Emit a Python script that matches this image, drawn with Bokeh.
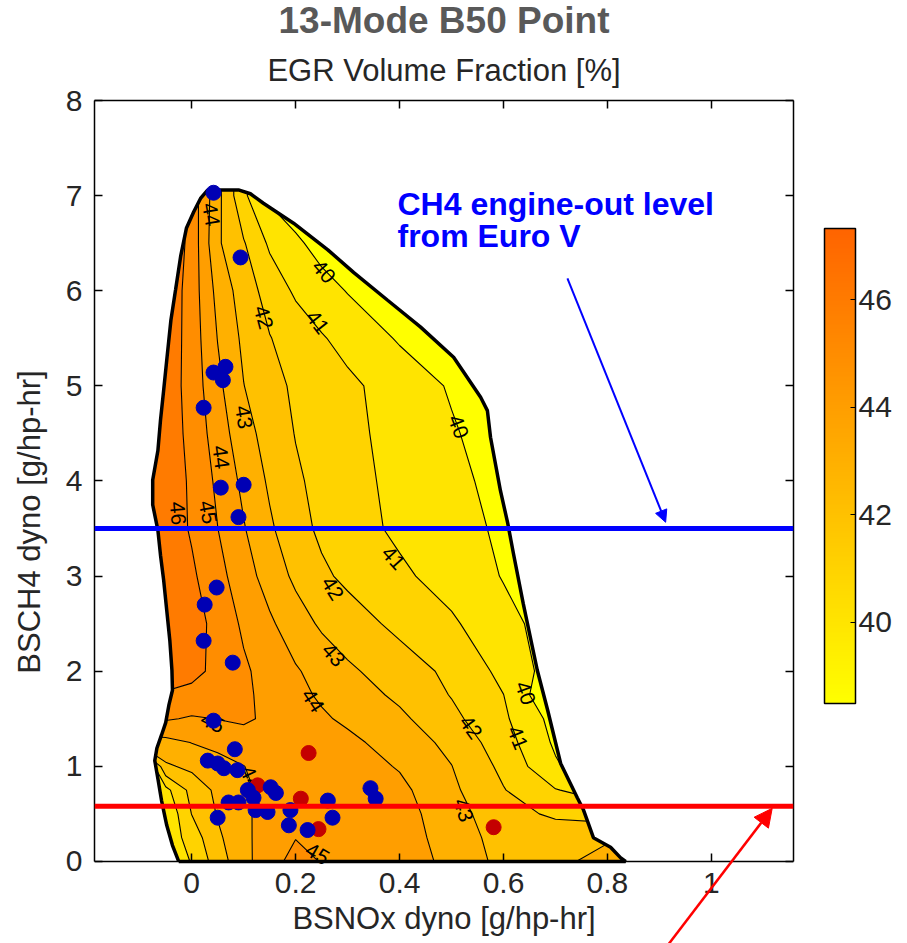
import numpy as np
from bokeh.plotting import figure
from bokeh.models import (LinearAxis, FixedTicker, CustomJSTickFormatter, Title, ColorBar,
                          LinearColorMapper, Span, Arrow, NormalHead, Label, Range1d)
from bokeh.embed import file_html
from bokeh.resources import INLINE
from bokeh.core.properties import value

FONT = "Liberation Sans"

# ---------------- data ----------------
grid_x = [-0.10, -0.05, 0.00, 0.05, 0.10, 0.15, 0.20, 0.25, 0.30, 0.40, 0.50, 0.60, 0.70, 0.80, 0.90]
grid_y = [0.0, 0.25, 0.5, 0.75, 1.0, 1.25, 1.5, 1.75, 2.0, 2.5, 3.0, 3.5, 4.0, 4.5, 5.0, 5.5, 6.0, 6.5, 7.0, 7.5]

egr_row_000 = [39.5, 40.2, 41.06, 42.5, 43.7, 44.6, 45.35, 44.95, 44.7, 44.55, 43.72, 42.7, 42.8, 43.3, 43.8]
egr_row_025 = [39.8, 40.3, 41.44, 42.81, 43.76, 44.5, 44.97, 44.8, 44.6, 44.5, 43.55, 42.6, 42.7, 42.9, 43.0]
egr_row_050 = [39.5, 40.1, 42.02, 43.07, 43.81, 44.4, 44.7, 44.7, 44.6, 44.45, 43.37, 42.44, 41.8, 41.5, 41.5]
egr_row_075 = [39.5, 40.7, 42.33, 43.23, 43.81, 44.3, 44.6, 44.6, 44.5, 44.25, 43.2, 42.05, 41.05, 40.5, 40.0]
egr_row_100 = [38.6, 42.85, 43.23, 43.6, 43.98, 44.4, 44.6, 44.5, 44.5, 43.92, 43.02, 41.76, 40.13, 39.0, 39.0]
egr_row_125 = [43.5, 43.7, 44.02, 44.3, 44.55, 44.7, 44.6, 44.45, 44.24, 43.55, 42.74, 41.44, 39.84, 39.0, 39.0]
egr_row_150 = [45.3, 45.1, 44.9, 45.02, 45.15, 44.82, 44.48, 44.14, 43.82, 43.21, 42.26, 41.17, 39.65, 39.0, 39.0]
egr_row_175 = [46.2, 45.9, 45.7, 45.6, 45.18, 44.72, 44.27, 43.86, 43.52, 42.8, 41.95, 41.01, 39.0, 38.8, 38.8]
egr_row_200 = [46.6, 46.5, 46.3, 45.73, 45.15, 44.62, 44.1, 43.63, 43.17, 42.48, 41.78, 40.74, 39.5, 38.8, 38.8]
egr_row_250 = [47.0, 46.8, 46.49, 45.64, 44.84, 44.16, 43.45, 42.85, 42.46, 41.75, 41.15, 40.27, 39.6, 39.0, 39.0]
egr_row_300 = [47.0, 46.7, 46.17, 45.33, 44.44, 43.57, 42.8, 42.18, 41.79, 41.19, 40.58, 39.95, 39.6, 39.2, 39.0]
egr_row_350 = [47.0, 46.6, 45.89, 45.01, 44.07, 43.15, 42.37, 41.81, 41.44, 40.8, 40.33, 39.85, 39.5, 39.2, 39.0]
egr_row_400 = [47.1, 46.7, 45.82, 44.81, 43.76, 42.85, 42.15, 41.71, 41.34, 40.73, 40.24, 39.7, 39.4, 39.2, 39.0]
egr_row_450 = [47.1, 46.6, 45.7, 44.52, 43.39, 42.58, 41.96, 41.61, 41.26, 40.65, 40.1, 39.5, 39.3, 39.1, 39.0]
egr_row_500 = [47.2, 46.6, 45.59, 44.24, 43.02, 42.32, 41.84, 41.52, 41.2, 40.56, 39.9, 39.4, 39.2, 39.0, 39.0]
egr_row_550 = [47.2, 46.7, 45.56, 43.97, 42.79, 42.04, 41.56, 41.08, 40.69, 39.9, 39.3, 39.1, 39.0, 39.0, 39.0]
egr_row_600 = [47.2, 46.8, 45.53, 43.7, 42.51, 41.6, 40.85, 40.4, 39.95, 39.3, 39.1, 39.0, 39.0, 39.0, 39.0]
egr_row_650 = [47.3, 47.0, 45.65, 43.15, 42.08, 40.84, 40.2, 39.6, 39.3, 39.1, 39.0, 39.0, 39.0, 39.0, 39.0]
egr_row_700 = [47.5, 46.8, 45.6, 43.3, 41.2, 39.8, 39.3, 39.0, 39.0, 39.0, 39.0, 39.0, 39.0, 39.0, 39.0]
egr_row_750 = [47.5, 46.8, 45.6, 43.3, 41.2, 39.8, 39.3, 39.0, 39.0, 39.0, 39.0, 39.0, 39.0, 39.0, 39.0]

contour_levels = [30, 40, 41, 42, 43, 44, 45, 46, 47, 60]
cbar_low, cbar_high = 38.49, 47.32
cbar_ticks = [40, 42, 44, 46]
x_ticks = [0, 0.2, 0.4, 0.6, 0.8, 1.0]
y_ticks = [0, 1, 2, 3, 4, 5, 6, 7, 8]

# measured operating envelope (boundary of the contoured area)
hull_x = [-0.025, -0.037, -0.048, -0.058, -0.065, -0.071, -0.067, -0.058, -0.050, -0.044,
          -0.037, -0.038, -0.042, -0.048, -0.054, -0.060, -0.065, -0.075, -0.075, -0.065,
          -0.060, -0.054, -0.048, -0.040, -0.031, -0.021, -0.010, 0.004, 0.017, 0.031,
          0.090, 0.113, 0.138, 0.196, 0.262, 0.312, 0.377, 0.440, 0.504, 0.556,
          0.569, 0.575, 0.594, 0.608, 0.619, 0.638, 0.665, 0.685, 0.710, 0.742,
          0.754, 0.773, 0.806, 0.825, 0.835]
hull_y = [0.00, 0.17, 0.38, 0.64, 0.87, 1.06, 1.19, 1.33, 1.46, 1.64,
          1.80, 2.01, 2.32, 2.64, 2.96, 3.22, 3.48, 3.75, 4.01, 4.32,
          4.64, 4.95, 5.27, 5.69, 6.01, 6.37, 6.66, 6.83, 6.97, 7.06,
          7.06, 7.02, 6.92, 6.71, 6.43, 6.19, 5.90, 5.62, 5.30, 4.88,
          4.74, 4.46, 3.90, 3.56, 3.24, 2.71, 2.01, 1.59, 1.03, 0.67,
          0.54, 0.25, 0.15, 0.04, 0.00]

blue_x = [0.042, 0.094, 0.042, 0.065, 0.060, 0.023, 0.056, 0.100, 0.090, 0.048,
          0.025, 0.023, 0.079, 0.042, 0.083, 0.031, 0.050, 0.062, 0.088, 0.108,
          0.119, 0.152, 0.162, 0.071, 0.090, 0.123, 0.146, 0.050, 0.190, 0.187,
          0.223, 0.262, 0.271, 0.344, 0.354]
blue_y = [7.03, 6.35, 5.14, 5.20, 5.06, 4.77, 3.93, 3.96, 3.62, 2.88,
          2.70, 2.32, 2.09, 1.48, 1.18, 1.06, 1.03, 0.98, 0.96, 0.75,
          0.67, 0.78, 0.72, 0.62, 0.62, 0.54, 0.52, 0.46, 0.54, 0.38,
          0.33, 0.64, 0.46, 0.77, 0.66]
red_x = [0.225, 0.127, 0.210, 0.244, 0.581]
red_y = [1.14, 0.80, 0.66, 0.34, 0.36]

clabel_text = ["40", "41", "42", "43", "44", "44", "40", "46", "45",
               "41", "42", "43", "44", "45", "44", "40", "41", "42", "43", "45"]
clabel_x = [0.254, 0.242, 0.138, 0.100, 0.056, 0.037, 0.513, -0.027, 0.031,
            0.388, 0.271, 0.273, 0.233, 0.040, 0.113, 0.642, 0.627, 0.537, 0.523, 0.242]
clabel_y = [6.20, 5.67, 5.72, 4.67, 4.25, 6.80, 4.57, 3.66, 3.67,
            3.19, 2.87, 2.17, 1.69, 1.46, 0.88, 1.77, 1.30, 1.41, 0.54, 0.08]
clabel_deg = [-49, -52, -75, -81, -82, -80, -69, -85, -80,
              -48, -58, -48, -57, -26, -65, -70, -68, -54, -72, -30]

ch4_level = 3.5
nox_level = 0.58

# plot window (axes box) and the page strip below it
x_lo, x_hi = -0.187, 1.158
y_lo, y_hi = 0.0, 8.0
y_page_bottom = -0.8626


def egr_color(v):
    t = (min(max(v, cbar_low), cbar_high) - cbar_low) / (cbar_high - cbar_low)
    g = int(round(255 - t * 155))
    return "#FF%02X00" % g


palette = [egr_color(cbar_low + (cbar_high - cbar_low) * i / 255.0) for i in range(256)]
band_colors = [egr_color(max(lv, cbar_low)) for lv in contour_levels[:-1]]

egr_z = np.array([egr_row_000, egr_row_025, egr_row_050, egr_row_075, egr_row_100,
                  egr_row_125, egr_row_150, egr_row_175, egr_row_200, egr_row_250,
                  egr_row_300, egr_row_350, egr_row_400, egr_row_450, egr_row_500,
                  egr_row_550, egr_row_600, egr_row_650, egr_row_700, egr_row_750])

# ---------------- figure ----------------
p = figure(width=900, height=943, title=None,
           x_range=Range1d(x_lo, x_hi), y_range=Range1d(y_page_bottom, y_hi),
           output_backend="svg", toolbar_location=None,
           min_border_left=94, min_border_right=107, min_border_top=100, min_border_bottom=0)
p.xgrid.visible = False
p.ygrid.visible = False
p.outline_line_color = None
p.background_fill_color = "white"
p.border_fill_color = "white"

p.contour(grid_x, grid_y, egr_z, contour_levels,
          fill_color=band_colors, line_color="black", line_width=1.1)

# white mask outside the measured envelope
p.multi_polygons(xs=[[[[-1.0, 2.0, 2.0, -1.0], hull_x]]],
                 ys=[[[[-2.0, -2.0, 10.0, 10.0], hull_y]]],
                 fill_color="white", line_color=None)
p.line(hull_x + [hull_x[0]], hull_y + [hull_y[0]], line_color="black", line_width=3.5)

p.text(x=clabel_x, y=clabel_y, text=clabel_text,
       angle=[np.deg2rad(a) for a in clabel_deg],
       text_font=value(FONT), text_font_size="21px", text_color="black",
       text_align="center", text_baseline="middle")

p.scatter(red_x, red_y, size=15, fill_color="#C40000", line_color="#C40000")
p.scatter(blue_x, blue_y, size=15, fill_color="#0000B4", line_color="#0000B4")

# axes: x axis sits on y = 0 so that the page strip below it stays free
xa = p.xaxis[0]
ya = p.yaxis[0]
xa.fixed_location = 0
xa.ticker = FixedTicker(ticks=x_ticks)
xa.formatter = CustomJSTickFormatter(code="return String(Math.round(tick*10)/10);")
ya.ticker = FixedTicker(ticks=y_ticks)
ya.bounds = (y_lo, y_hi)
xa.axis_label = "BSNOx dyno [g/hp-hr]"
ya.axis_label = "BSCH4 dyno [g/hp-hr]"
for ax in (xa, ya):
    ax.major_label_text_font = FONT
    ax.major_label_text_font_size = "30px"
    ax.major_label_text_color = "#262626"
    ax.axis_label_text_font = FONT
    ax.axis_label_text_font_size = "31px"
    ax.axis_label_text_font_style = "normal"
    ax.axis_label_text_color = "#262626"
    ax.major_tick_in = 8
    ax.major_tick_out = 0
    ax.minor_tick_line_color = None
    ax.axis_line_color = "black"
    ax.axis_line_width = 1.5
    ax.major_tick_line_width = 1.5
    ax.major_label_standoff = 12
xa.axis_label_standoff = 4
ya.axis_label_standoff = 16

blank = CustomJSTickFormatter(code="return '';")
top_ax = LinearAxis(ticker=FixedTicker(ticks=x_ticks), formatter=blank,
                    major_label_text_font_size="1px", major_label_text_color=None,
                    major_tick_in=8, major_tick_out=0, minor_tick_line_color=None,
                    major_label_standoff=0, axis_line_color="black", axis_line_width=1.5,
                    major_tick_line_width=1.5)
p.add_layout(top_ax, "above")
right_ax = LinearAxis(ticker=FixedTicker(ticks=y_ticks), formatter=blank, bounds=(y_lo, y_hi),
                      major_label_text_font_size="1px", major_label_text_color=None,
                      major_tick_in=8, major_tick_out=0, minor_tick_line_color=None,
                      major_label_standoff=0, axis_line_color="black", axis_line_width=1.5,
                      major_tick_line_width=1.5)
p.add_layout(right_ax, "right")

# titles
p.add_layout(Title(text="EGR Volume Fraction [%]", align="center", text_font=FONT,
                   text_font_size="31px", text_font_style="normal", text_color="#262626",
                   standoff=26), "above")
p.add_layout(Title(text="13-Mode B50 Point", align="center", text_font=FONT,
                   text_font_size="37px", text_font_style="bold", text_color="#595959",
                   standoff=-7), "above")

# colour bar
mapper = LinearColorMapper(palette=palette, low=cbar_low, high=cbar_high)
cbar = ColorBar(color_mapper=mapper, ticker=FixedTicker(ticks=cbar_ticks),
                width=31, height=475, location=(31, 240), padding=0,
                bar_line_color="black", bar_line_width=1.5,
                major_tick_line_color="black", major_tick_in=5, major_tick_out=0,
                minor_tick_line_color=None,
                major_label_text_font=FONT, major_label_text_font_size="30px",
                major_label_text_color="#262626", label_standoff=3,
                background_fill_color=None)
p.add_layout(cbar, "right")

# reference levels
p.add_layout(Span(location=ch4_level, dimension="width", line_color="#0000FF", line_width=5))
p.add_layout(Span(location=nox_level, dimension="width", line_color="#FF0000", line_width=5))

# annotation
p.add_layout(Label(x=0.396, y=6.72, text="CH4 engine-out level", text_font=FONT,
                   text_font_size="32px", text_font_style="bold", text_color="#0000FF"))
p.add_layout(Label(x=0.396, y=6.385, text="from Euro V", text_font=FONT,
                   text_font_size="32px", text_font_style="bold", text_color="#0000FF"))
p.add_layout(Arrow(end=NormalHead(size=12, fill_color="#0000FF", line_color="#0000FF"),
                   x_start=0.723, y_start=6.13, x_end=0.912, y_end=3.566,
                   line_color="#0000FF", line_width=2))
p.add_layout(Arrow(end=NormalHead(size=18, fill_color="#FF0000", line_color="#FF0000"),
                   x_start=0.905, y_start=-0.96, x_end=1.117, y_end=0.558,
                   line_color="#FF0000", line_width=2.5))

open("out.html", "w").write(file_html(p, INLINE))
